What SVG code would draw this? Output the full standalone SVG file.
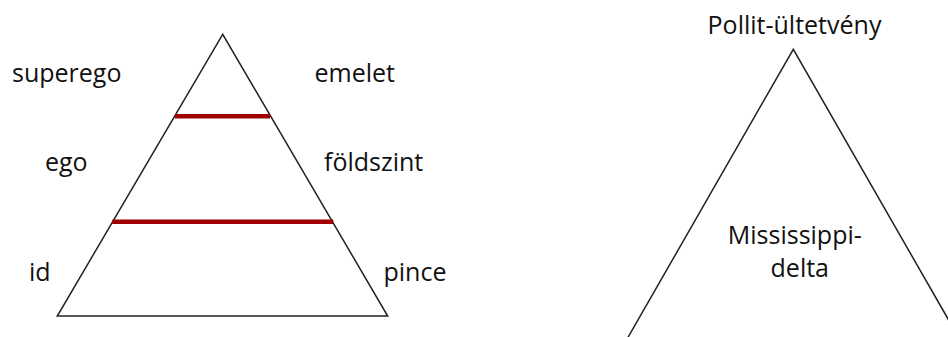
<svg xmlns="http://www.w3.org/2000/svg" width="948" height="337" viewBox="0 0 948 337">
<style>
.t{font-family:"Open Sans","Noto Sans","Liberation Sans",sans-serif;font-size:25px;fill:#111}
.edge{stroke:#222;stroke-width:1.5;fill:none}
.red{stroke:#a00000;stroke-width:4.5;fill:none}
</style>
<rect width="948" height="337" fill="#fff"/>
<g id="pyramid1">
<polygon class="edge" points="222.7,34.3 57.3,316 387.7,316"/>
</g>
<g id="connectors">
<line class="red" x1="175" y1="116.3" x2="270" y2="116.3"/>
<line class="red" x1="112.3" y1="221.7" x2="333.3" y2="221.7"/>
</g>
<g id="labels-left">
<text class="t" x="12" y="82">superego</text>
<text class="t" x="45" y="171">ego</text>
<text class="t" x="29" y="281">id</text>
</g>
<g id="labels-right">
<text class="t" x="314.5" y="82">emelet</text>
<text class="t" x="324" y="171">földszint</text>
<text class="t" x="383.5" y="280.5">pince</text>
</g>
<g id="pyramid2">
<polyline class="edge" points="615,360 793.3,49.3 971.6,360"/>
<text class="t" x="794.5" y="34" text-anchor="middle">Pollit-ültetvény</text>
<text class="t" x="794.8" y="244" text-anchor="middle">Mississippi-</text>
<text class="t" x="799.8" y="277" text-anchor="middle">delta</text>
</g>
</svg>
